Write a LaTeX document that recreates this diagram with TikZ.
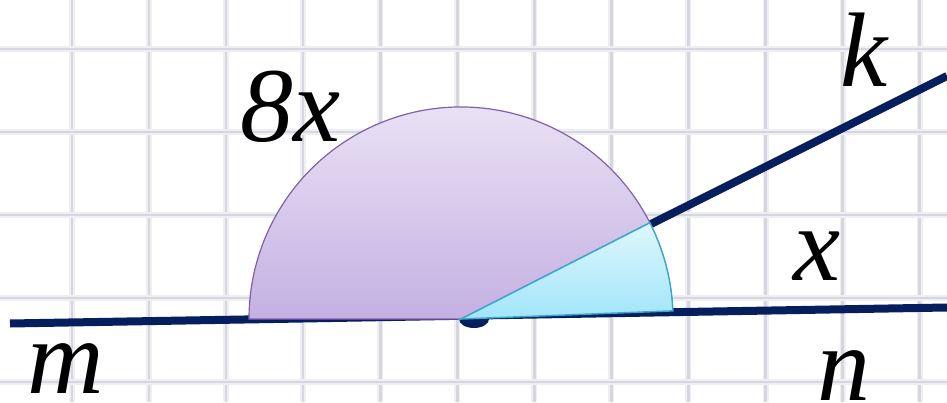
\documentclass[tikz,border=0pt]{standalone}
\usepackage{fontspec}
\setmainfont{Liberation Serif}
\usepackage{tikz}
\usetikzlibrary{calc}
\definecolor{gridC}{RGB}{214,214,224}
\definecolor{gridH}{RGB}{238,238,243}
\definecolor{navyL}{RGB}{4,30,94}
\definecolor{bigTop}{RGB}{238,232,247}
\definecolor{bigBot}{RGB}{196,176,226}
\definecolor{bigEdge}{RGB}{128,96,170}
\definecolor{smlTop}{RGB}{222,247,253}
\definecolor{smlBot}{RGB}{162,229,250}
\definecolor{smlEdge}{RGB}{62,168,200}
\tikzset{
  gridhalo/.style={line width=6pt, gridH},
  gridline/.style={line width=2.5pt, gridC},
  thickline/.style={line width=8pt, navyL},
  bigsector/.style={draw=bigEdge, line width=1.2pt, top color=bigTop, bottom color=bigBot},
  smlsector/.style={draw=smlEdge, line width=1.5pt, top color=smlTop, bottom color=smlBot},
  letter/.style={inner sep=0pt, anchor=base west, font=\fontsize{106}{106}\selectfont\itshape},
}
\begin{document}
\begin{tikzpicture}[x=1pt,y=1pt]
  \useasboundingbox (0,0) rectangle (947,402);
  \fill[white] (0,0) rectangle (947,402);
  % squared paper
  \foreach \i in {0,...,12} {
    \draw[gridhalo] ({-5+77.05*\i},0) -- ({-5+77.05*\i},402);
    \draw[gridline] ({-5+77.05*\i},0) -- ({-5+77.05*\i},402);
  }
  \foreach \y in {20,104,187,270,353} {
    \draw[gridhalo] (0,\y) -- (947,\y);
    \draw[gridline] (0,\y) -- (947,\y);
  }
  % lines
  \coordinate (O) at (461,83);
  \coordinate (M) at (10,78.5);
  \coordinate (N) at (947,94.5);
  \coordinate (K) at (947,326);
  \fill[navyL] (474,83) ++(0:15) arc[start angle=0, end angle=-180, x radius=15, y radius=9] -- cycle;
  \draw[thickline] (M) -- (N);
  \draw[thickline] (O) -- (K);
  % angles
  \draw[bigsector] (O) -- ++(27:212) arc[start angle=27, end angle=180, radius=212] -- cycle;
  \draw[smlsector] (O) -- ++(2.2:212) arc[start angle=2.2, end angle=27, radius=212] -- cycle;
  % labels
  \node[letter] (big) at (240,260) {8x};
  \node[letter] (kname) at (840,315) {k};
  \node[letter] (small) at (793,122) {x};
  \node[letter] (mname) at (27,9) {m};
  \node[letter] (nname) at (817,2) {n};
\end{tikzpicture}
\end{document}
